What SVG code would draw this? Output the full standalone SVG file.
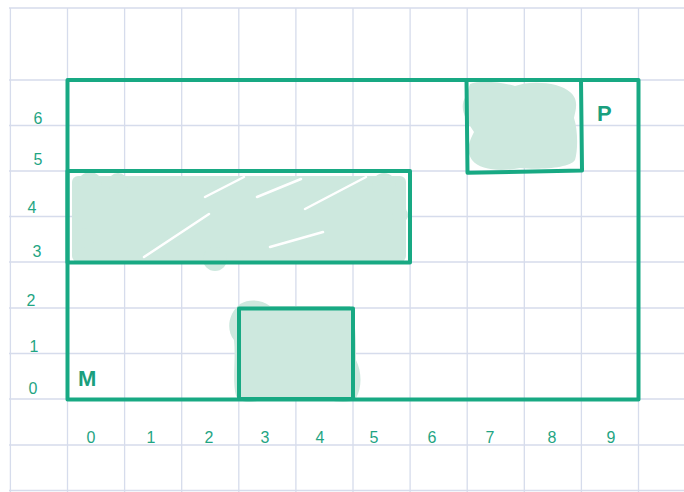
<svg xmlns="http://www.w3.org/2000/svg" width="684" height="492" viewBox="0 0 684 492">
<style>
.g{stroke:#d6dcec;stroke-width:1.3;fill:none}
.r{stroke:#18a983;stroke-width:4;fill:none;stroke-linejoin:round}
.f{fill:#cde8de}
.w{stroke:#ffffff;stroke-width:2.5;stroke-linecap:round;fill:none}
.n{font-family:"Liberation Sans",Arial,sans-serif;font-size:16px;fill:#1fa583;text-anchor:middle}
.b{font-family:"Liberation Sans",Arial,sans-serif;font-size:22px;font-weight:bold;fill:#1a9f7e}
</style>
<rect width="684" height="492" fill="#ffffff"/>
<g id="grid">
<path class="g" d="M10.4,8V492M67.5,8V492M124.6,8V492M181.7,8V492M238.8,8V492M295.9,8V492M353,8V492M410.1,8V492M467.2,8V492M524.3,8V492M581.4,8V492M638.5,8V492"/>
<path class="g" d="M9,8H684M9,80H684M9,125.5H684M9,171H684M9,216.5H684M9,262H684M9,308H684M9,353.5H684M9,399H684M9,445H684M9,490.5H684"/>
</g>
<g id="shade-long">
<rect class="f" x="72" y="176" width="334" height="86" rx="6"/>
<circle class="f" cx="90" cy="184" r="12"/>
<circle class="f" cx="118" cy="183" r="10"/>
<circle class="f" cx="84" cy="238" r="10"/>
<circle class="f" cx="215" cy="259" r="12"/>
<circle class="f" cx="250" cy="256" r="8"/>
<circle class="f" cx="384" cy="185" r="12"/>
<circle class="f" cx="400" cy="215" r="8"/>
<path class="w" d="M144,257L209,214M205,197L244,177M257,197L301,179M305,209L366,177M270,247L323,232"/>
</g>
<g id="shade-top">
<path class="f" d="M470,84C480,80 500,82 515,86C530,80 560,82 570,92C580,100 575,112 574,118C578,130 578,150 575,160C570,168 540,170 520,168C500,172 480,170 472,160C465,150 470,140 474,132C466,120 458,108 466,96Z"/>
</g>
<g id="shade-bottom">
<path class="f" d="M240,304C250,298 262,300 270,306L350,306C356,320 356,340 356,360C362,372 362,388 356,398C350,404 336,402 330,400L260,400C250,404 240,402 236,396C232,380 236,360 234,340C226,330 228,314 240,304Z"/>
</g>
<g id="rects">
<rect class="r" x="67.5" y="80" width="571" height="319.5"/>
<rect class="r" x="67.5" y="171" width="342.5" height="91.5"/>
<path class="r" d="M466.5,80L467.5,172.8L582,170.5L581,80"/>
<rect class="r" x="239" y="308.5" width="114" height="90.5"/>
</g>
<g id="labels">
<text class="n" x="38" y="124">6</text>
<text class="n" x="38" y="165">5</text>
<text class="n" x="32" y="213">4</text>
<text class="n" x="37" y="257">3</text>
<text class="n" x="31" y="306">2</text>
<text class="n" x="34" y="352">1</text>
<text class="n" x="33" y="394">0</text>
<text class="n" x="91" y="443">0</text>
<text class="n" x="151" y="443">1</text>
<text class="n" x="209" y="443">2</text>
<text class="n" x="265" y="443">3</text>
<text class="n" x="320" y="443">4</text>
<text class="n" x="374" y="443">5</text>
<text class="n" x="432" y="443">6</text>
<text class="n" x="490" y="443">7</text>
<text class="n" x="552" y="443">8</text>
<text class="n" x="611" y="443">9</text>
<text class="b" x="78" y="386">M</text>
<text class="b" x="597" y="121">P</text>
</g>
</svg>
